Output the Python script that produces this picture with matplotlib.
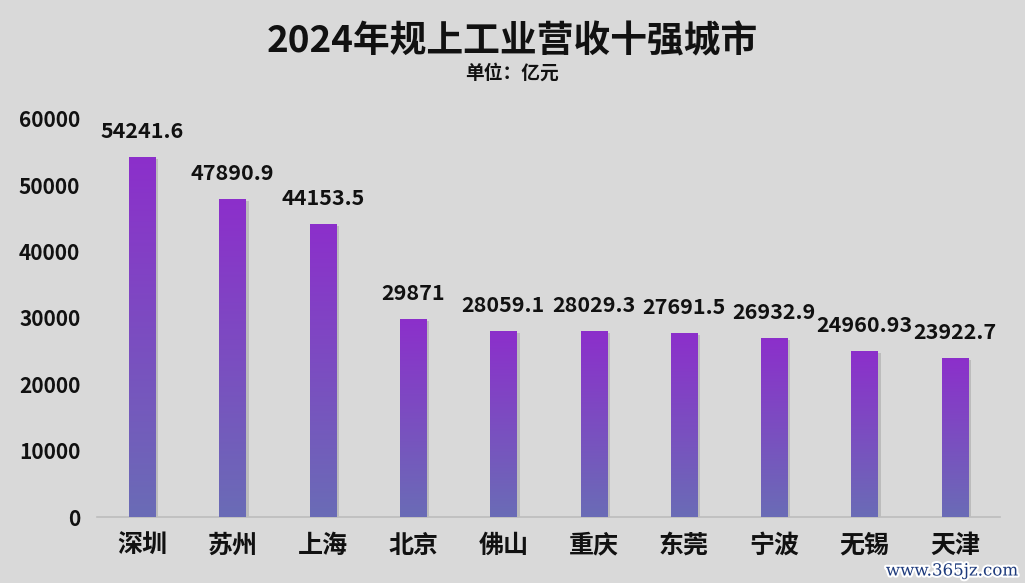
import matplotlib
matplotlib.use("Agg")
import matplotlib.pyplot as plt
import matplotlib.patheffects as pe
import numpy as np
from matplotlib.colors import LinearSegmentedColormap

plt.rcParams["font.family"] = ["Noto Sans CJK SC", "DejaVu Sans"]

# ── data ─────────────────────────────────────────────────────────────────────
cities = ["深圳", "苏州", "上海", "北京", "佛山", "重庆", "东莞", "宁波", "无锡", "天津"]
revenue = [54241.6, 47890.9, 44153.5, 29871, 28059.1, 28029.3, 27691.5, 26932.9, 24960.93, 23922.7]
value_labels = ["54241.6", "47890.9", "44153.5", "29871", "28059.1", "28029.3",
                "27691.5", "26932.9", "24960.93", "23922.7"]
yticks = [0, 10000, 20000, 30000, 40000, 50000, 60000]

BG = "#d9d9d9"
grad = LinearSegmentedColormap.from_list("bar", ["#6a6cb6", "#8c2fcb"])

fig = plt.figure(figsize=(10.25, 5.83), dpi=100, facecolor=BG)
ax = fig.add_axes([0.0946, 0.1132, 0.8810, 0.6827])
ax.set_facecolor(BG)

x = np.arange(len(cities))
w = 0.29
bars = ax.bar(x, revenue, width=w, color="none", edgecolor="none", zorder=3)

gvals = np.linspace(0, 1, 256).reshape(-1, 1)
for bar in bars:
    x0 = bar.get_x()
    h = bar.get_height()
    # soft shadow on the right
    ax.add_patch(plt.Rectangle((x0 + 0.035, 0), w, h - 300, color="#a9a9a9",
                               alpha=0.6, lw=0, zorder=2))
    im = ax.imshow(gvals, cmap=grad, origin="lower", aspect="auto",
                   extent=[x0, x0 + w, 0, h], zorder=3)
    im.set_clip_path(bar)

for xi, v, lbl in zip(x, revenue, value_labels):
    ax.text(xi, v + 2300, lbl, ha="center", va="bottom", fontsize=15.5,
            fontweight="bold", color="#111111", zorder=4)

ax.set_xlim(-0.5, len(cities) - 0.5)
ax.set_ylim(0, 60000)
ax.set_xticks(x)
ax.set_xticklabels(cities, fontsize=18, fontweight="bold", color="#111111")
ax.set_yticks(yticks)
ax.set_yticklabels([str(t) for t in yticks], fontsize=15, fontweight="bold", color="#111111")
ax.tick_params(length=0)
ax.tick_params(axis="x", pad=12)
ax.tick_params(axis="y", pad=12)
for s in ("top", "right", "left"):
    ax.spines[s].set_visible(False)
ax.spines["bottom"].set_color("#bdbdbd")
ax.spines["bottom"].set_linewidth(1.2)

fig.text(0.5, 0.928, "2024年规上工业营收十强城市", ha="center", va="center",
         fontsize=26.5, fontweight="bold", color="#111111")
fig.text(0.5, 0.875, "单位：亿元", ha="center", va="center",
         fontsize=13.5, fontweight="bold", color="#111111")

fig.text(0.993, 0.006, "www.365jz.com", ha="right", va="bottom", fontsize=12,
         family="DejaVu Serif", color="#1d3a7c",
         path_effects=[pe.withStroke(linewidth=3, foreground="white")])

fig.savefig("out.png", dpi=100, facecolor=BG)
